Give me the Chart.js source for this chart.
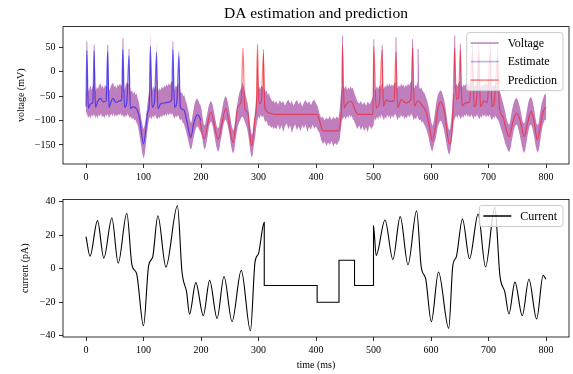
<!DOCTYPE html>
<html>
<head>
<meta charset="utf-8">
<title>DA estimation and prediction</title>
<script src="https://cdn.jsdelivr.net/npm/chart.js@4.4.0/dist/chart.umd.min.js"></script>
<style>
  html, body { margin: 0; padding: 0; background: #fff; }
  #wrap { position: relative; width: 573px; height: 374px; }
  .panel { position: absolute; left: 0; width: 573px; }
  #top { top: 0; height: 190px; }
  #bottom { top: 190px; height: 184px; }
</style>
</head>
<body>
<div id="wrap">
  <div class="panel" id="top"><canvas id="voltageChart"></canvas></div>
  <div class="panel" id="bottom"><canvas id="currentChart"></canvas></div>
</div>
<script>
// Tick labels
const xTicks = [0, 100, 200, 300, 400, 500, 600, 700, 800];
const voltTicks = [-150, -100, -50, 0, 50];
const curTicks = [-40, -20, 0, 20, 40];

// Estimate (t ms, mV)
const estimate = [[0,-72],[1.5,43],[4,-75],[8,-66],[12,-62],[14,43],[16.5,-73],[20,-62],[25,-55],[30,-62],[35,-60],[37.6,41],[40,-73],[44,-60],[47,-55],[52,-63],[58,-60],[62,-58],[64,45],[67,-73],[71,-62],[74.7,32],[77,-75],[82,-72],[88,-76],[93,-95],[100,-148],[104,-118],[107,-85],[110,-68],[112,51],[115,-73],[119,-64],[122.7,39],[125,-76],[130,-66],[138,-64],[145,-62],[149,-57],[151,45],[154,-73],[158,-62],[161.5,32],[164,-73],[170,-78],[176,-105],[182,-135],[188,-103],[194,-88],[200,-100]];

// Prediction (t ms, mV)
const prediction = [[198,-100],[205.4,-137],[217,-83],[229.8,-138],[243,-76],[256,-145],[264,-71],[270,-61],[273,48],[276,-74],[281,-83],[288,-152],[293.6,-98],[296.5,-62],[298.3,55],[300.6,-66],[305,-60],[308.5,38],[311,-74],[320,-85],[328,-87.5],[402,-87.5],[406,-100],[412,-121],[440,-121],[443,-95],[444.5,-72],[446,53],[449,-74],[453,-66],[461.7,-61],[467.5,-77],[473,-87.5],[499,-87.5],[500.5,51.5],[504.6,-74],[510,-64],[515,44.7],[517,-71],[522,-58],[528,-61],[536,-60],[539,41],[542,-74],[548,-58],[556.6,-64],[565,-57],[568,48],[571,-71],[577,-60],[585.6,-71],[591,-81],[597,-111],[602,-142],[608,-111],[612,-75],[616.7,-62],[623.6,-84],[632,-148],[638,-91],[641,48],[644,-57],[648,-52],[651,45],[654,-70],[660,-64],[667,-62],[672,40],[675,-72],[679,-62],[683,40],[686,-72],[692,-60],[698,-63],[703,40],[706,-72],[710,-62],[716,30],[719,-75],[725,-92],[730,-115],[736,-133],[742,-105],[749,-85],[755,-100],[762,-133],[768,-105],[774,-82],[779,-100],[785,-140],[790,-112],[795,-82],[800,-72]];

// Voltage, upper edge of the noisy trace
const voltHi = [[0,-40],[0.6,62],[2.2,62],[3.4,-32],[5,-42],[6,-35],[8,-28],[10,-38],[12,-30],[12.6,-25],[13.4,55],[15,55],[16.2,-30],[17,-40],[19,-30],[21,-36],[23,-27],[25,-24],[27,-33],[29,-28],[31,-36],[33,-27],[35,-31],[36.2,-25],[37,55],[38.6,55],[39.8,-32],[41,-40],[43,-30],[45,-26],[47,-22],[49,-32],[51,-28],[53,-35],[55,-26],[57,-30],[59,-24],[61,-29],[62.6,-20],[63.4,68],[65,68],[66.2,-30],[67,-38],[69,-27],[71,-22],[73.2,-25],[74,46],[75.4,46],[76.6,-32],[78,-42],[80,-38],[82,-46],[84,-40],[86,-48],[88,-45],[90,-55],[92,-62],[94,-78],[96,-95],[98,-108],[100,-118],[102,-110],[104,-95],[106,-75],[108,-55],[110,-40],[110.6,-30],[111.4,79],[113,79],[114.2,-32],[115,-38],[117,-30],[119,-36],[121.2,-28],[122,60],[123.4,60],[124.6,-33],[126,-40],[128,-34],[130,-38],[132,-30],[134,-35],[136,-28],[138,-32],[140,-26],[142,-30],[144,-24],[146,-28],[148,-22],[149.6,-20],[150.4,62],[151.8,62],[153,-30],[154,-38],[156,-28],[158,-32],[160,-26],[160.8,41],[162.2,41],[163.4,-35],[165,-45],[167,-42],[169,-50],[171,-48],[173,-58],[175,-65],[177,-75],[179,-86],[181,-100],[183,-105],[185,-92],[187,-78],[189,-65],[191,-58],[193,-55],[195,-58],[197,-65],[199,-68],
  [201,-78],[203,-95],[205,-108],[207,-110],[209,-96],[211,-85],[213,-72],[215,-64],[217,-60],[219,-63],[221,-72],[223,-84],[225,-98],[227,-110],[229,-116],[231,-114],[233,-100],[235,-88],[237,-75],[239,-62],[241,-54],[243,-50],[245,-55],[247,-64],[249,-78],[251,-92],[253,-108],[255,-118],[257,-120],[259,-105],[261,-85],[263,-68],[265,-52],[267,-42],[269,-36],[271,-30],[272,-22],[273,-25],[275,-34],[277,-45],[279,-55],[281,-64],[283,-80],[285,-105],[287,-125],[289,-130],[291,-112],[293,-92],[295,-70],[296.6,-45],[297.5,62],[299.1,62],[300.2,-38],[301,-30],[303,-36],[305,-28],[307,-32],[307.8,45],[309.2,45],[310.4,-35],[312,-42],[314,-38],[316,-48],[318,-44],[320,-52],[322,-56],[324,-62],[326,-58],[328,-65],
  [331,-60],[334,-68],[337,-58],[340,-65],[343,-60],[346,-70],[349,-62],[352,-57],[355,-66],[358,-60],[361,-70],[364,-62],[367,-58],[370,-67],[373,-61],[376,-72],[379,-63],[382,-58],[385,-66],[388,-60],[391,-69],[394,-61],[397,-57],[400,-65],[403,-72],
  [406,-85],[409,-95],[412,-92],[415,-100],[418,-94],[421,-98],[424,-91],[427,-99],[430,-93],[433,-97],[436,-92],[439,-96],[441,-80],[443,-50],[444.4,-35],[445.2,73],[446.8,73],[447.8,-30],[450,-35],[452,-28],[454,-38],[456,-32],[458,-36],[460,-30],[462,-35],[464,-33],[466,-42],[468,-48],[470,-55],[472,-60],[475,-66],[478,-60],[481,-68],[484,-62],[487,-70],[490,-61],[493,-67],[496,-60],[499,-50],[499.8,66],[501.2,66],[502.4,-40],
  [504,-35],[506,-30],[508,-36],[510,-28],[512,-33],[513.4,-26],[514.2,55],[515.8,55],[516.8,-30],[518,-36],[520,-28],[522,-32],[524,-25],[526,-30],[528,-24],[530,-31],[532,-26],[534,-30],[536,-24],[537.4,-22],[538.2,70],[539.8,70],[540.8,-28],[542,-35],[544,-27],[546,-32],[548,-24],[550,-30],[552,-26],[554,-33],[556,-27],[558,-31],[560,-24],[562,-29],[564,-23],[566.4,-20],[567.2,66],[568.8,66],[569.8,-28],[571,-35],[573,-27],[574.5,-30],[576,-24],[576.8,46],[578.4,46],[579.4,-30],[581,-36],[583,-32],[585,-38],[587,-42],[589,-45],[591,-52],[593,-58],[595,-68],[597,-78],[599,-92],[601,-105],[603,-112],[605,-100],[607,-82],[609,-65],[611,-52],[613,-45],[615,-40],[617,-38],[619,-42],[621,-50],[623,-58],[625,-72],[627,-90],[629,-108],[631,-118],[633,-120],[635,-100],[637,-72],[638.6,-45],[639.6,-30],[640.4,74],[642,74],[643,-30],[644,-25],[646,-30],[648,-24],[649.4,-20],[650.2,57],[651.8,57],[652.8,-28],[655,-32],[657,-26],[659,-30],[661,-24],[663,-28],[665,-22],[667,-27],[669,-23],[670.4,-20],[671.2,55],[672.8,55],[673.8,-28],[675,-32],[677,-25],[679,-29],[681.4,-22],[682.2,55],[683.8,55],[684.8,-28],[686,-33],[688,-26],[690,-30],[692,-24],[694,-28],[696,-22],[698,-27],[700,-24],[701.4,-20],[702.2,55],[703.8,55],[704.8,-28],[706,-33],[708,-26],[710,-30],[712,-27],[714.2,-24],[715.2,50],[716.8,50],[717.8,-32],[719,-40],[721,-45],[723,-55],[725,-62],[727,-72],[729,-82],[731,-95],[733,-102],[735,-108],[737,-106],[739,-92],[741,-78],[743,-68],[745,-60],[747,-55],[749,-54],[751,-58],[753,-66],[755,-75],[757,-88],[759,-100],[761,-106],[763,-104],[765,-92],[767,-78],[769,-65],[771,-56],[773,-52],[775,-54],[777,-62],[779,-74],[781,-90],[783,-104],[785,-110],[787,-106],[789,-90],[791,-75],[793,-62],[795,-55],[797,-48],[799,-45],[800,-50]];

// Voltage, lower edge of the noisy trace
const voltLo = [[0,-82],[2,-88],[4,-95],[6,-90],[8,-96],[10,-88],[12,-93],[14,-86],[16,-95],[18,-90],[20,-96],[22,-88],[24,-92],[26,-85],[28,-94],[30,-90],[32,-96],[34,-88],[36,-92],[38,-86],[40,-95],[42,-90],[44,-86],[46,-92],[48,-85],[50,-93],[52,-88],[54,-92],[56,-86],[58,-90],[60,-85],[62,-92],[64,-88],[66,-95],[68,-89],[70,-93],[72,-86],[74,-90],[76,-95],[78,-92],[80,-98],[82,-94],[84,-100],[86,-98],[88,-105],[90,-110],[92,-122],[94,-138],[96,-152],[98,-168],[100,-178],[102,-170],[104,-150],[106,-128],[108,-108],[110,-96],[112,-92],[114,-98],[116,-90],[118,-95],[120,-88],[122,-94],[124,-98],[126,-92],[128,-96],[130,-90],[132,-94],[134,-88],[136,-92],[138,-86],[140,-91],[142,-85],[144,-90],[146,-84],[148,-89],[150,-85],[152,-92],[154,-97],[156,-90],[158,-94],[160,-88],[162,-95],[164,-100],[166,-97],[168,-104],[170,-106],[172,-114],[174,-122],[176,-132],[178,-142],[180,-152],[182,-160],[184,-155],[186,-142],[188,-130],[190,-120],[192,-114],[194,-112],[196,-116],[198,-122],
  [200,-125],[202,-135],[204,-150],[206,-160],[208,-155],[210,-142],[212,-128],[214,-112],[216,-104],[218,-102],[220,-110],[222,-122],[224,-135],[226,-150],[228,-160],[230,-164],[232,-158],[234,-142],[236,-130],[238,-115],[240,-104],[242,-98],[244,-100],[246,-108],[248,-120],[250,-134],[252,-150],[254,-162],[256,-168],[258,-160],[260,-140],[262,-125],[264,-112],[266,-104],[268,-100],[270,-94],[272,-92],[274,-96],[276,-102],[278,-108],[280,-116],[282,-128],[284,-145],[286,-165],[288,-176],[290,-170],[292,-150],[294,-135],[296,-115],[298,-100],[300,-92],[302,-96],[304,-88],[306,-94],[308,-90],[310,-98],[312,-104],[314,-100],[316,-108],[318,-112],[320,-110],[322,-116],[324,-112],[326,-118],[328,-114],
  [331,-118],[334,-108],[337,-120],[340,-110],[343,-124],[346,-112],[349,-106],[352,-118],[355,-110],[358,-126],[361,-114],[364,-108],[367,-120],[370,-112],[373,-122],[376,-110],[379,-116],[382,-108],[385,-124],[388,-113],[391,-119],[394,-108],[397,-117],[400,-112],[403,-120],
  [406,-125],[409,-140],[412,-148],[415,-143],[418,-152],[421,-145],[424,-150],[427,-142],[430,-153],[433,-146],[436,-150],[439,-144],[441,-140],[443,-120],[445,-100],[447,-96],[450,-92],[452,-98],[454,-90],[456,-96],[458,-88],[460,-94],[462,-90],[464,-97],[466,-100],[468,-106],[470,-112],[472,-118],[475,-110],[478,-120],[481,-112],[484,-122],[487,-114],[490,-124],[493,-110],[496,-118],[498,-114],[500,-110],
  [502,-95],[504,-100],[506,-92],[508,-98],[510,-90],[512,-96],[514,-88],[516,-94],[518,-100],[520,-92],[522,-97],[524,-88],[526,-94],[528,-90],[530,-98],[532,-89],[534,-95],[536,-90],[538,-86],[540,-93],[542,-100],[544,-92],[546,-96],[548,-88],[550,-94],[552,-90],[554,-98],[556,-92],[558,-96],[560,-88],[562,-94],[564,-90],[566,-86],[568,-92],[570,-100],[572,-94],[574,-98],[576,-90],[578,-96],[580,-100],[582,-98],[584,-104],[586,-102],[588,-108],[590,-112],[592,-118],[594,-126],[596,-136],[598,-148],[600,-158],[602,-164],[604,-156],[606,-145],[608,-138],[610,-125],[612,-112],[614,-106],[616,-100],[618,-102],[620,-108],[622,-116],[624,-128],[626,-142],[628,-156],[630,-166],[632,-170],[634,-160],[636,-140],[638,-118],[640,-100],[642,-94],[644,-90],[646,-96],[648,-88],[650,-93],[652,-98],[654,-90],[656,-95],[658,-88],[660,-92],[662,-86],[664,-93],[666,-89],[668,-95],[670,-88],[672,-92],[674,-98],[676,-90],[678,-94],[680,-87],[682,-93],[684,-98],[686,-91],[688,-95],[690,-87],[692,-92],[694,-88],[696,-94],[698,-89],[700,-93],[702,-88],[704,-95],[706,-100],[708,-92],[710,-96],[712,-90],[714,-95],[716,-98],[718,-102],[720,-110],[722,-118],[724,-125],[726,-134],[728,-142],[730,-150],[732,-156],[734,-162],[736,-165],[738,-158],[740,-145],[742,-132],[744,-120],[746,-112],[748,-108],[750,-110],[752,-118],[754,-128],[756,-140],[758,-152],[760,-162],[762,-167],[764,-160],[766,-145],[768,-130],[770,-118],[772,-110],[774,-108],[776,-114],[778,-125],[780,-138],[782,-152],[784,-162],[786,-166],[788,-158],[790,-142],[792,-125],[794,-112],[796,-104],[798,-98],[800,-100]];

// Injected current (t ms, pA)
const current = [[0,19.1],[7,7.5],[20,28.6],[31,6.3],[45,30.2],[56,3.3],[71,33],[80,2],[88,-3],[100,-34],[109,2],[116,7],[125,31.5],[139,1],[159,37.5],[167,-2],[175,-14],[180,-27],[191,-8.3],[204,-28],[215,-7],[228,-29.6],[240,-4.7],[254,-31.5],[270,-1],[286,-37],[294,4],[300,9],[310,27.6],[310,-10],[402,-10],[402,-20],[440,-20],[440,5],[467,5],[467,-10],[500,-10],[500,25.6],[504.6,7.9],[520,29],[533.7,5.5],[546.5,31],[560,2.3],[575,34.5],[583,1],[590.7,-6],[600.6,-31.6],[613,-2],[630.8,-35.5],[638,2],[644,7],[654.7,29.6],[667,5.9],[682,32.5],[694.8,1],[711,36.5],[719.8,-4],[728.5,-14],[735.5,-27],[746,-8],[758.7,-28],[770.3,-6.3],[783.7,-30],[795,-4],[800,-6.3]];

const toXY = arr => arr.map(p => ({ x: p[0], y: p[1] }));
const minus = v => String(v).replace('-', '\u2212');

Chart.defaults.font.family = "'Liberation Serif', 'DejaVu Serif', serif";
Chart.defaults.color = '#000';

// box round the plot area, like matplotlib spines
const framePlugin = {
    id: 'frame',
    afterDatasetsDraw(chart) {
        const { ctx, chartArea: a } = chart;
        ctx.save();
        ctx.strokeStyle = '#000';
        ctx.lineWidth = 0.8;
        ctx.strokeRect(a.left, a.top, a.right - a.left, a.bottom - a.top);
        ctx.restore();
    }
};

// legend drawn inside the axes, upper right
const boxLegend = {
    id: 'boxLegend',
    afterDraw(chart, args, opts) {
        const items = opts.items || [];
        if (!items.length) return;
        const { ctx, chartArea: a } = chart;
        ctx.save();
        ctx.font = "12px 'Liberation Serif', serif";
        const textW = Math.max(...items.map(it => ctx.measureText(it.label).width));
        const rowH = 18.5;
        const w = 4 + 28 + 9 + textW + 6;
        const h = 21 + (items.length - 1) * rowH;
        const x = a.right - 6 - w;
        const y = a.top + 6;
        ctx.beginPath();
        ctx.roundRect(x, y, w, h, 2.5);
        ctx.fillStyle = 'rgba(255,255,255,0.8)';
        ctx.fill();
        ctx.strokeStyle = '#cccccc';
        ctx.lineWidth = 1;
        ctx.stroke();
        items.forEach((it, i) => {
            const cy = y + 10.5 + i * rowH;
            ctx.beginPath();
            ctx.moveTo(x + 4, cy);
            ctx.lineTo(x + 32, cy);
            ctx.strokeStyle = it.color;
            ctx.lineWidth = 1.5;
            ctx.stroke();
            ctx.fillStyle = '#000';
            ctx.textBaseline = 'middle';
            ctx.textAlign = 'left';
            ctx.fillText(it.label, x + 41, cy + 0.5);
        });
        ctx.restore();
    }
};

function xAxis(height, title) {
    return {
        type: 'linear',
        min: -40,
        max: 840,
        afterBuildTicks: s => { s.ticks = xTicks.map(v => ({ value: v })); },
        afterFit: s => { s.height = height; },
        ticks: { autoSkip: false, maxRotation: 0, padding: 3, font: { size: 10 }, callback: v => minus(v) },
        grid: { drawOnChartArea: false, drawTicks: true, tickLength: 4, color: '#000', lineWidth: 0.8 },
        border: { display: false },
        title: title ? { display: true, text: title, font: { size: 10 }, padding: { top: 0, bottom: 3 } } : { display: false }
    };
}

function yAxis(min, max, ticks, title, titlePad) {
    return {
        min: min,
        max: max,
        afterBuildTicks: s => { s.ticks = ticks.map(v => ({ value: v })); },
        afterFit: s => { s.width = 63; },
        ticks: { autoSkip: false, padding: 3.5, font: { size: 10 }, callback: v => minus(v) },
        grid: { drawOnChartArea: false, drawTicks: true, tickLength: 4, color: '#000', lineWidth: 0.8 },
        border: { display: false },
        title: { display: true, text: title, font: { size: 10 }, padding: { top: titlePad, bottom: 0 } }
    };
}

// Voltage panel
new Chart(document.getElementById('voltageChart'), {
    type: 'line',
    data: {
        datasets: [{
            label: 'Prediction',
            data: toXY(prediction),
            borderColor: 'rgba(255,0,0,0.5)',
            borderWidth: 1.25,
            pointRadius: 0,
            cubicInterpolationMode: 'monotone',
            fill: false,
            order: 0
        }, {
            label: 'Estimate',
            data: toXY(estimate),
            borderColor: 'rgba(0,0,255,0.55)',
            borderWidth: 1.25,
            pointRadius: 0,
            cubicInterpolationMode: 'monotone',
            fill: false,
            order: 1
        }, {
            label: 'Voltage',
            data: toXY(voltHi),
            borderColor: 'rgba(128,0,128,0.5)',
            backgroundColor: 'rgba(128,0,128,0.5)',
            borderWidth: 0,
            pointRadius: 0,
            tension: 0,
            fill: '+1',
            order: 2
        }, {
            label: 'voltage low',
            data: toXY(voltLo),
            borderColor: 'rgba(128,0,128,0.5)',
            borderWidth: 0,
            pointRadius: 0,
            tension: 0,
            fill: false,
            order: 3
        }]
    },
    options: {
        responsive: true,
        maintainAspectRatio: false,
        animation: false,
        devicePixelRatio: 1,
        layout: { padding: { left: 0, right: 4, top: 0, bottom: 0 } },
        plugins: {
            legend: { display: false },
            tooltip: { enabled: false },
            title: {
                display: true,
                fullSize: false,
                text: 'DA estimation and prediction',
                font: { size: 15.5, weight: 'normal' },
                padding: { top: 5, bottom: 3 }
            },
            boxLegend: {
                items: [
                    { label: 'Voltage', color: 'rgba(128,0,128,0.5)' },
                    { label: 'Estimate', color: 'rgba(0,0,255,0.3)' },
                    { label: 'Prediction', color: 'rgba(255,0,0,0.5)' }
                ]
            }
        },
        scales: {
            x: xAxis(26, null),
            y: yAxis(-189, 92, voltTicks, 'voltage (mV)', 15)
        }
    },
    plugins: [framePlugin, boxLegend]
});

// Current panel
new Chart(document.getElementById('currentChart'), {
    type: 'line',
    data: {
        datasets: [{
            label: 'Current',
            data: toXY(current),
            borderColor: '#000',
            borderWidth: 1.1,
            pointRadius: 0,
            cubicInterpolationMode: 'monotone',
            fill: false
        }]
    },
    options: {
        responsive: true,
        maintainAspectRatio: false,
        animation: false,
        devicePixelRatio: 1,
        layout: { padding: { left: 0, right: 4, top: 9, bottom: 0 } },
        plugins: {
            legend: { display: false },
            tooltip: { enabled: false },
            boxLegend: {
                items: [{ label: 'Current', color: '#000' }]
            }
        },
        scales: {
            x: xAxis(37, 'time (ms)'),
            y: yAxis(-40.7, 41.2, curTicks, 'current (pA)', 19)
        }
    },
    plugins: [framePlugin, boxLegend]
});
</script>
</body>
</html>
